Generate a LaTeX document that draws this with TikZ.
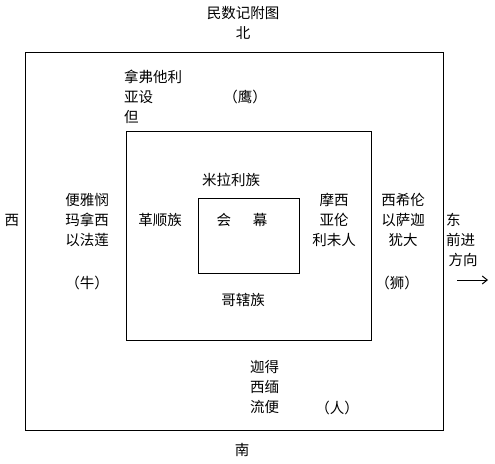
\documentclass[tikz,border=0pt]{standalone}
\usepackage{fontspec}
\usetikzlibrary{arrows.meta}
\newfontfamily\cjk{Noto Sans CJK SC}
\begin{document}
\begin{tikzpicture}[x=1pt,y=-1pt,
  lbl/.style={inner sep=0pt,font=\cjk\fontsize{14.5}{20}\selectfont},
  box/.style={draw,line width=1.2pt}]
\useasboundingbox (0,0) rectangle (495,463);
\node[box,minimum width=418pt,minimum height=378pt,anchor=north west,inner sep=0pt] (outer) at (25,52) {};
\node[box,minimum width=245pt,minimum height=209pt,anchor=north west,inner sep=0pt] (inner) at (126,131) {};
\node[box,minimum width=101pt,minimum height=75pt,anchor=north west,inner sep=0pt] (core) at (198,198) {};
\node[lbl] (title) at (243,13) {民数记附图};
\node[lbl] (north) at (243,33) {北};
\node[lbl,anchor=west,align=left] (nw) at (124,97) {拿弗他利\\亚设\\但};
\node[lbl] (eagle) at (245,97) {（鹰）};
\node[lbl] (west) at (12,220) {西};
\node[lbl,align=center] (wt) at (87,220) {便雅悯\\玛拿西\\以法莲};
\node[lbl] (ox) at (87,283) {（牛）};
\node[lbl] (gs) at (160,220) {革顺族};
\node[lbl] (mll) at (231,180) {米拉利族};
\node[lbl] (hm) at (242,220) {会\hspace{1.5em}幕};
\node[lbl,align=center] (mx) at (334,220) {摩西\\亚伦\\利未人};
\node[lbl,align=center] (ex) at (403,220) {西希伦\\以萨迦\\犹大};
\node[lbl] (lion) at (397,283) {（狮）};
\node[lbl,anchor=west,align=left] (east) at (446,240) {东\\前进\\\,方向};
\coordinate (a1) at (457,280);
\coordinate (a2) at (488,280);
\draw[-{Straight Barb[length=5pt,width=8pt]},line width=1pt] (a1) -- (a2);
\node[lbl] (gx) at (243,300) {哥辖族};
\node[lbl,anchor=west,align=left] (sw) at (250,387) {迦得\\西缅\\流便};
\node[lbl] (man) at (337,408) {（人）};
\node[lbl] (south) at (242,450) {南};
\end{tikzpicture}
\end{document}
